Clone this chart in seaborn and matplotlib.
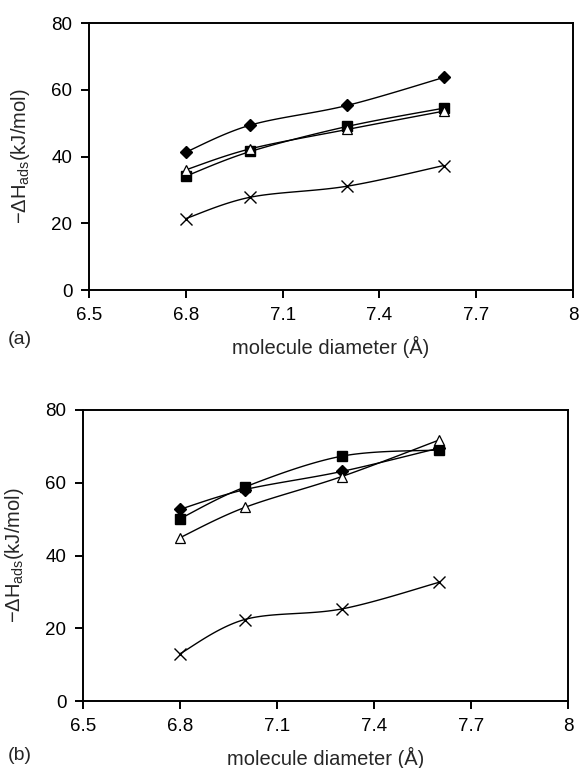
import numpy as np
import pandas as pd
import seaborn as sns
import matplotlib
matplotlib.use("Agg")
import matplotlib.pyplot as plt

# molecule diameters (Angstrom)
diameter = [6.8, 7.0, 7.3, 7.6]

# panel (a)
a_diamond = [41.3, 49.4, 55.3, 63.7]
a_square = [34.1, 41.5, 49.0, 54.5]
a_triangle = [36.0, 42.3, 48.1, 53.6]
a_cross = [21.4, 27.8, 31.1, 37.3]

# panel (b)
b_diamond = [52.7, 58.1, 63.1, 69.5]
b_square = [50.1, 58.8, 67.3, 69.0]
b_triangle = [44.9, 53.2, 61.7, 71.7]
b_cross = [13.0, 22.4, 25.3, 32.6]

xticks = [6.5, 6.8, 7.1, 7.4, 7.7, 8.0]
xticklabels = ["6.5", "6.8", "7.1", "7.4", "7.7", "8"]
yticks = [0, 20, 40, 60, 80]


def smooth(x, y, n=30):
    # Excel-style smoothed line: cubic Bezier with control points from neighbours
    x = np.asarray(x, float)
    y = np.asarray(y, float)
    px = np.concatenate([[x[0]], x, [x[-1]]])
    py = np.concatenate([[y[0]], y, [y[-1]]])
    xs, ys = [], []
    t = np.linspace(0, 1, n)
    for i in range(1, len(px) - 2):
        p0 = np.array([px[i], py[i]])
        p3 = np.array([px[i + 1], py[i + 1]])
        c1 = p0 + (np.array([px[i + 1], py[i + 1]]) - np.array([px[i - 1], py[i - 1]])) / 6
        c2 = p3 - (np.array([px[i + 2], py[i + 2]]) - np.array([px[i], py[i]])) / 6
        pts = (((1 - t) ** 3)[:, None] * p0 + (3 * (1 - t) ** 2 * t)[:, None] * c1
               + (3 * (1 - t) * t ** 2)[:, None] * c2 + (t ** 3)[:, None] * p3)
        xs.extend(pts[:, 0])
        ys.extend(pts[:, 1])
    return np.array(xs), np.array(ys)


sns.set_theme(style="ticks")
plt.rcParams["font.family"] = ["Liberation Sans", "DejaVu Sans"]
plt.rcParams["mathtext.fontset"] = "custom"
plt.rcParams["mathtext.rm"] = "Liberation Sans"

W, H = 581, 768
fig = plt.figure(figsize=(W / 100, H / 100), dpi=100)
ax_a = fig.add_axes([89 / W, 1 - 290 / H, (573 - 89) / W, (290 - 23) / H])
ax_b = fig.add_axes([83 / W, 1 - 701 / H, (568 - 83) / W, (701 - 410) / H])

styles = [
    dict(marker="D", ms=6.5, mfc="black", mec="black"),
    dict(marker="s", ms=7.5, mfc="black", mec="black"),
    dict(marker="^", ms=7.5, mfc="white", mec="black", mew=0.9),
    dict(marker="x", ms=8, mfc="none", mec="black", mew=1.0),
]


def draw(ax, series):
    for vals, st in zip(series, styles):
        sx, sy = smooth(diameter, vals)
        sns.lineplot(x=sx, y=sy, ax=ax, color="black", lw=1.0, sort=False,
                     estimator=None, zorder=2)
        df = pd.DataFrame({"d": diameter, "h": vals})
        ax.plot(df["d"], df["h"], ls="none", zorder=3, **st)
    ax.set_xlim(6.5, 8.0)
    ax.set_ylim(0, 80)
    ax.set_xticks(xticks)
    ax.set_xticklabels(xticklabels)
    ax.set_yticks(yticks)
    for s in ax.spines.values():
        s.set_linewidth(1.4)
        s.set_color("black")
    ax.tick_params(axis="both", direction="out", length=6, width=1.4,
                   labelsize=13.5, colors="black", pad=6)
    ax.set_xlabel("molecule diameter (Å)", fontsize=14.5, labelpad=9)
    ax.set_ylabel("−ΔH$_{\\mathregular{ads}}$(kJ/mol)", fontsize=14.5, labelpad=14)
    ax.grid(False)
    ax.set_facecolor("white")
    return ax


draw(ax_a, [a_diamond, a_square, a_triangle, a_cross])
draw(ax_b, [b_diamond, b_square, b_triangle, b_cross])

fig.text(8 / W, 1 - 339 / H, "(a)", fontsize=14, va="center")
fig.text(8 / W, 1 - 755 / H, "(b)", fontsize=14, va="center")

fig.savefig("out.png", dpi=100, facecolor="white")
